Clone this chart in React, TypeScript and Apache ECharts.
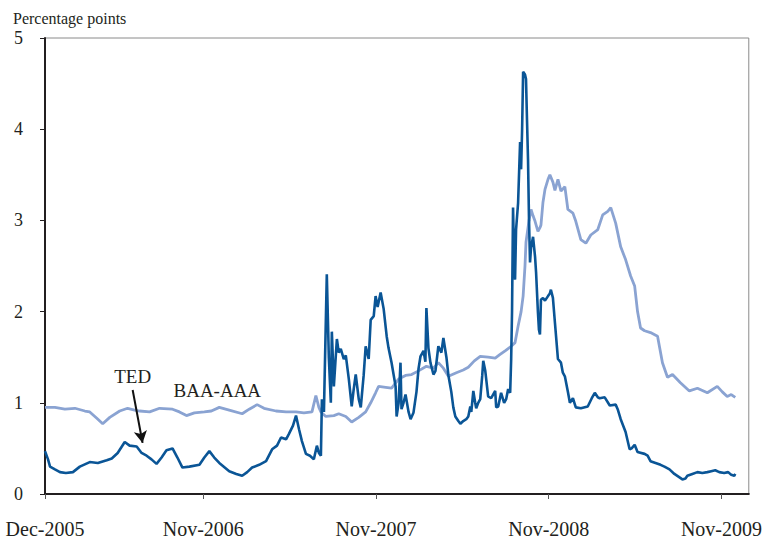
import React, { useEffect, useRef } from "react";
import * as echarts from "echarts";

// x values are months since Dec-2005 (0 = Dec-2005)
const xTickMonths = [0, 11, 23, 35, 47];
const xTickLabels = ["Dec-2005", "Nov-2006", "Nov-2007", "Nov-2008", "Nov-2009"];
const yTicks = [0, 1, 2, 3, 4, 5];

const tedMonths = [
  0, 0.21, 0.35, 0.69, 1.04, 1.45, 1.94, 2.42, 3.11, 3.67, 4.29, 4.64, 5.05, 5.54, 5.88, 6.37, 6.71, 7.06, 7.4, 7.75,
  8.1, 8.44, 8.86, 9.2, 9.55, 10.03, 10.73, 11.07, 11.42, 11.76, 12.11, 12.8, 13.29, 13.7, 14.05, 14.39, 14.88, 15.36, 15.78, 16.12,
  16.4, 16.75, 16.95, 17.23, 17.44, 17.65, 17.85, 18.13, 18.41, 18.68, 18.89, 19.03, 19.17, 19.24, 19.38, 19.58, 19.72, 19.86, 19.93, 20.07,
  20.28, 20.41, 20.55, 20.76, 20.9, 21.11, 21.31, 21.45, 21.59, 21.8, 21.94, 22.14, 22.28, 22.49, 22.63, 22.84, 22.97, 23.11, 23.32, 23.53,
  23.74, 23.87, 24.08, 24.36, 24.43, 24.57, 24.7, 24.77, 24.91, 25.05, 25.26, 25.4, 25.6, 25.81, 25.95, 26.09, 26.3, 26.43, 26.5, 26.64,
  26.78, 26.99, 27.13, 27.33, 27.54, 27.68, 27.89, 28.03, 28.23, 28.37, 28.51, 28.72, 28.86, 29.06, 29.27, 29.41, 29.55, 29.62, 29.76, 29.89,
  29.96, 30.1, 30.24, 30.38, 30.45, 30.59, 30.79, 31.0, 31.28, 31.35, 31.49, 31.69, 31.9, 32.04, 32.18, 32.32, 32.39, 32.45, 32.52, 32.59,
  32.66, 32.73, 32.87, 33.01, 33.08, 33.15, 33.22, 33.35, 33.42, 33.49, 33.56, 33.63, 33.7, 33.77, 33.91, 34.05, 34.12, 34.25, 34.32, 34.39,
  34.46, 34.6, 34.74, 34.95, 35.08, 35.15, 35.29, 35.43, 35.64, 35.85, 35.98, 36.12, 36.33, 36.47, 36.68, 36.88, 37.23, 37.71, 37.99, 38.2,
  38.41, 38.54, 38.89, 39.24, 39.65, 39.79, 40.0, 40.34, 40.62, 40.76, 40.97, 41.17, 41.66, 41.87, 42.07, 42.42, 42.77, 43.04, 43.39, 43.73,
  44.01, 44.29, 44.5, 44.63, 44.98, 45.33, 45.67, 46.02, 46.29, 46.57, 46.85, 47.19, 47.47, 47.68, 47.89, 47.96,
];
const tedValues = [
  0.47, 0.38, 0.3, 0.27, 0.24, 0.23, 0.24, 0.3, 0.35, 0.34, 0.37, 0.39, 0.45, 0.57, 0.53, 0.52, 0.45, 0.42, 0.38, 0.33,
  0.4, 0.48, 0.5, 0.4, 0.29, 0.3, 0.32, 0.4, 0.47, 0.4, 0.34, 0.25, 0.22, 0.2, 0.24, 0.29, 0.32, 0.36, 0.49, 0.53,
  0.62, 0.6, 0.66, 0.75, 0.86, 0.71, 0.58, 0.44, 0.42, 0.38, 0.53, 0.45, 0.42, 1.04, 0.9, 2.41, 1.5, 1.0, 1.78, 1.18,
  1.7, 1.55, 1.59, 1.48, 1.52, 1.26, 0.96, 1.15, 1.31, 1.04, 0.95, 1.3, 1.62, 1.48, 1.91, 1.95, 2.17, 2.05, 2.21, 2.03,
  1.73, 1.6, 1.44, 1.18, 0.85, 1.0, 1.44, 0.93, 1.0, 1.09, 0.9, 0.82, 0.89, 1.12, 1.37, 1.51, 1.57, 1.45, 2.04, 1.6,
  1.44, 1.31, 1.35, 1.62, 1.55, 1.71, 1.5, 1.3, 1.12, 0.95, 0.85, 0.8, 0.77, 0.8, 0.82, 0.85, 0.96, 0.9, 1.13, 1.0,
  0.94, 1.0, 1.04, 1.3, 1.46, 1.35, 1.07, 1.05, 1.13, 0.95, 0.96, 1.11, 1.0, 1.04, 1.15, 1.11, 1.48, 2.0, 3.14, 2.6,
  2.35, 2.9, 3.19, 3.86, 3.56, 4.0, 4.63, 4.6, 4.55, 4.1, 3.67, 3.0, 2.54, 2.7, 2.82, 2.6, 2.43, 1.99, 1.8, 1.75,
  2.13, 2.15, 2.12, 2.17, 2.2, 2.24, 2.15, 1.88, 1.48, 1.44, 1.33, 1.29, 1.12, 1.0, 1.05, 0.95, 0.94, 0.96, 1.05, 1.11,
  1.06, 1.05, 1.06, 0.97, 0.98, 0.93, 0.82, 0.68, 0.49, 0.5, 0.54, 0.46, 0.44, 0.42, 0.36, 0.34, 0.32, 0.3, 0.27, 0.22,
  0.19, 0.16, 0.17, 0.2, 0.22, 0.24, 0.23, 0.24, 0.25, 0.26, 0.24, 0.23, 0.24, 0.21, 0.2, 0.22,
];

const baaMonths = [
  0, 0.69, 1.38, 2.08, 2.77, 3.11, 3.6, 4.01, 4.5, 5.19, 5.74, 6.23, 6.57, 7.27, 7.96, 8.86, 9.34, 9.83, 10.38, 11.07,
  11.56, 12.11, 12.8, 13.7, 14.19, 14.74, 15.22, 16.05, 16.75, 17.44, 17.99, 18.55, 18.82, 19.03, 19.17, 19.51, 20.07, 20.41, 20.9, 21.31,
  21.8, 22.28, 22.63, 22.97, 23.18, 23.67, 24.08, 24.57, 25.05, 25.47, 25.95, 26.5, 26.99, 27.33, 27.68, 28.03, 28.58, 29.06, 29.41, 29.83,
  30.24, 30.79, 31.28, 31.62, 31.97, 32.39, 32.66, 32.87, 33.08, 33.22, 33.35, 33.42, 33.63, 33.77, 33.91, 34.05, 34.25, 34.39, 34.46, 34.6,
  34.74, 34.95, 35.08, 35.29, 35.43, 35.64, 35.85, 36.12, 36.33, 36.68, 36.88, 37.23, 37.58, 37.92, 38.41, 38.75, 39.1, 39.31, 39.65, 40.0,
  40.34, 40.69, 40.97, 41.17, 41.38, 41.66, 42.07, 42.56, 42.9, 43.25, 43.6, 44.15, 44.77, 45.33, 46.02, 46.71, 47.06, 47.4, 47.68, 47.96,
];
const baaValues = [
  0.95, 0.95, 0.93, 0.94, 0.91, 0.9, 0.83, 0.77, 0.84, 0.91, 0.94, 0.92, 0.91, 0.9, 0.94, 0.93, 0.9, 0.86, 0.89, 0.9,
  0.91, 0.95, 0.92, 0.88, 0.93, 0.98, 0.94, 0.91, 0.9, 0.9, 0.89, 0.9, 1.08, 0.95, 0.9, 0.85, 0.86, 0.88, 0.85, 0.79,
  0.84, 0.9, 1.0, 1.11, 1.18, 1.17, 1.16, 1.26, 1.3, 1.31, 1.35, 1.4, 1.38, 1.44, 1.38, 1.29, 1.33, 1.36, 1.39, 1.46,
  1.51, 1.5, 1.49, 1.53, 1.57, 1.62, 1.66, 1.84, 2.0, 2.17, 2.5, 2.76, 3.0, 3.12, 3.05, 2.99, 2.88, 2.92, 2.95, 3.2,
  3.34, 3.45, 3.5, 3.42, 3.33, 3.45, 3.32, 3.37, 3.12, 3.08, 2.99, 2.79, 2.75, 2.84, 2.9, 3.06, 3.1, 3.14, 2.97, 2.71,
  2.57, 2.39, 2.28, 2.0, 1.82, 1.79, 1.77, 1.73, 1.44, 1.28, 1.31, 1.22, 1.13, 1.16, 1.11, 1.18, 1.12, 1.07, 1.09, 1.06,
];

const tedLabelAt = [6.09, 1.29];
const baaLabelAt = [11.97, 1.13];
const arrowFrom = [6.09, 1.14];
const arrowTo = [6.78, 0.56];

const FONT = "'Liberation Serif', 'Times New Roman', serif";
const TEXT = "#231f20";

export default function App() {
  const ref = useRef<HTMLDivElement>(null);
  useEffect(() => {
    if (!ref.current) return;
    const chart = echarts.init(ref.current, null, { renderer: "svg" });
    const ted = tedMonths.map((m, i) => [m, tedValues[i]]);
    const baa = baaMonths.map((m, i) => [m, baaValues[i]]);
    chart.setOption({
      animation: false,
      backgroundColor: "#ffffff",
      title: {
        text: "Percentage points",
        left: 8,
        top: 5,
        textStyle: { fontFamily: FONT, fontSize: 16, fontWeight: "normal", color: TEXT },
      },
      grid: {
        left: 45,
        right: 13,
        top: 38,
        bottom: 44,
        show: true,
        borderColor: "#8a8a8a",
        borderWidth: 1,
        backgroundColor: "transparent",
      },
      xAxis: {
        type: "value",
        min: 0,
        max: 48.9,
        splitLine: { show: false },
        axisLine: { show: true, onZero: false, lineStyle: { color: TEXT, width: 2 } },
        axisTick: {
          show: true,
          length: 5,
          customValues: xTickMonths,
          lineStyle: { color: "#555", width: 1 },
        },
        axisLabel: {
          customValues: xTickMonths,
          margin: 25,
          fontFamily: FONT,
          fontSize: 20,
          color: TEXT,
          formatter: (v: number) => {
            const i = xTickMonths.indexOf(Math.round(v));
            return i >= 0 ? xTickLabels[i] : "";
          },
        },
      },
      yAxis: {
        type: "value",
        min: yTicks[0],
        max: yTicks[yTicks.length - 1],
        interval: 1,
        splitLine: { show: false },
        axisLine: { show: true, lineStyle: { color: TEXT, width: 2 } },
        axisTick: { show: true, length: 5, lineStyle: { color: TEXT, width: 1 } },
        axisLabel: { margin: 22, fontFamily: FONT, fontSize: 18, color: TEXT },
      },
      series: [
        {
          name: "BAA-AAA",
          type: "line",
          data: baa,
          showSymbol: false,
          symbol: "none",
          lineStyle: { color: "#8aa3d2", width: 2.8 },
          z: 2,
        },
        {
          name: "TED",
          type: "line",
          data: ted,
          showSymbol: false,
          symbol: "none",
          lineStyle: { color: "#0a5596", width: 2.6 },
          z: 3,
          markLine: {
            silent: true,
            symbol: ["none", "arrow"],
            symbolSize: [10, 12],
            lineStyle: { color: "#111", width: 2, type: "solid" },
            label: { show: false },
            data: [[{ coord: arrowFrom }, { coord: arrowTo }]],
          },
          markPoint: {
            silent: true,
            symbol: "circle",
            symbolSize: 1,
            itemStyle: { color: "rgba(0,0,0,0)" },
            label: {
              show: true,
              position: "inside",
              fontFamily: FONT,
              fontSize: 19,
              color: TEXT,
              formatter: (p: any) => p.name,
            },
            data: [
              { name: "TED", coord: tedLabelAt },
              { name: "BAA-AAA", coord: baaLabelAt },
            ],
          },
        },
      ],
    });
    return () => chart.dispose();
  }, []);
  return (
    <div
      ref={ref}
      style={{ position: "absolute", left: 0, top: 0, width: 765, height: 539, background: "#fff" }}
    />
  );
}
